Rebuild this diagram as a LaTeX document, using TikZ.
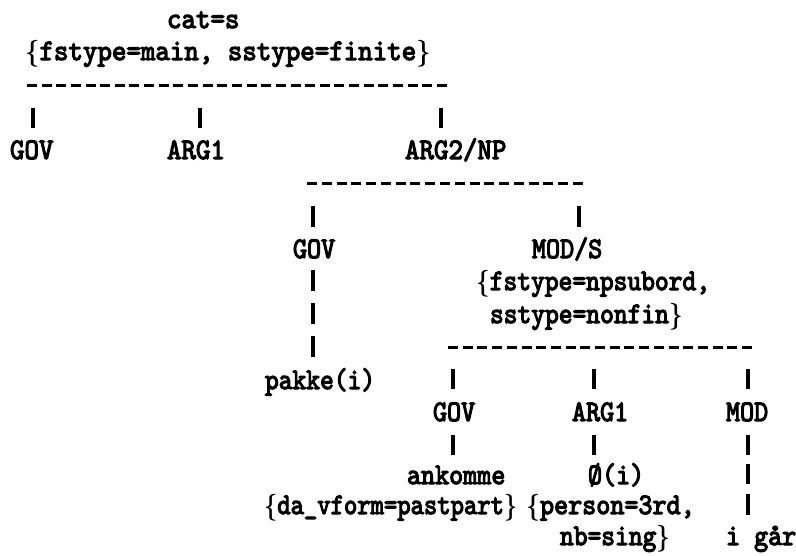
\documentclass[tikz,border=0pt]{standalone}
\usepackage{fontspec}
\usepackage{graphicx}
\newfontfamily\ttbold{lmmono10-regular.otf}[FakeBold=4]
\tikzset{
  lbl/.style={anchor=base west, inner sep=0pt, outer sep=0pt,
    font=\fontsize{27.6}{30}\selectfont\ttbold},
  vbar/.style={line width=3.2pt},
  hdash/.style={line width=3pt},
}
\newcommand{\lb}{\makebox[0.525em][c]{\smash{\boldmath$\{$}}}
\newcommand{\rb}{\makebox[0.525em][c]{\smash{\boldmath$\}$}}}
\newcommand{\TT}[2]{\scalebox{#1}[1.08]{#2}}
% vertical bar: name, x, top y, bottom y
\newcommand{\vb}[4]{%
  \coordinate (#1t) at (#2,#3);
  \coordinate (#1b) at (#2,#4);
  \draw[vbar] (#1t) -- (#1b);}
\begin{document}
\begin{tikzpicture}[x=1pt,y=-1pt]
\useasboundingbox (0,0) rectangle (796,555);
% ---- top level
\node[lbl] (cat) at (167,28) {\TT{1}{cat=s}};
\node[lbl] (feat1) at (25,60) {\TT{1}{\lb fstype=main, sstype=finite\rb}};
\coordinate (d1l) at (27,85);
\coordinate (d1r) at (447,85);
\draw[hdash, dash pattern=on 10pt off 4.64pt] (d1l) -- (d1r);
\vb{b1}{33}{108}{128}
\vb{b2}{200}{108}{128}
\vb{b3}{441}{108}{128}
\node[lbl] (gov1) at (10,159) {\TT{1}{GOV}};
\node[lbl] (arg1) at (167,159) {\TT{1}{ARG1}};
\node[lbl] (arg2) at (405,159) {\TT{1}{ARG2/NP}};
% ---- ARG2/NP
\coordinate (d2l) at (307,183);
\coordinate (d2r) at (583,183);
\draw[hdash, dash pattern=on 10pt off 4.78pt] (d2l) -- (d2r);
\vb{b4}{313}{206}{227}
\vb{b5}{579}{206}{227}
\node[lbl] (gov2) at (293,258) {\TT{0.97}{GOV}};
\node[lbl] (mods) at (532,258) {\TT{0.97}{MOD/S}};
\node[lbl] (feat2) at (476,290) {\TT{0.95}{\lb fstype=npsubord,}};
\node[lbl] (feat3) at (490,323) {\TT{0.95}{sstype=nonfin\rb}};
\vb{b6}{313}{270}{291}
\vb{b7}{313}{303}{324}
\vb{b8}{313}{336}{357}
\coordinate (d3l) at (448,347);
\coordinate (d3r) at (752,347);
\draw[hdash, dash pattern=on 10pt off 4.7pt] (d3l) -- (d3r);
% ---- MOD/S
\node[lbl] (pakke) at (265,389) {\TT{0.95}{pakke(i)}};
\vb{b9}{453}{369}{389}
\vb{b10}{594}{369}{389}
\vb{b11}{748}{369}{389}
\node[lbl] (gov3) at (433,421) {\TT{0.97}{GOV}};
\node[lbl] (arg3) at (572,421) {\TT{0.97}{ARG1}};
\node[lbl] (mod) at (726,421) {\TT{0.97}{MOD}};
\vb{b12}{453}{435}{455}
\vb{b13}{594}{435}{455}
\vb{b14}{748}{435}{455}
\node[lbl] (ank) at (407,484) {\TT{0.97}{ankomme}};
\node[lbl] (zero) at (588,484) {\TT{0.97}{Ø(i)}};
\vb{b15}{748}{464}{484}
\node[lbl] (feat4) at (264,514) {\TT{0.92}{\lb da\_vform=pastpart\rb}};
\node[lbl] (feat5) at (526,514) {\TT{0.97}{\lb person=3rd,}};
\vb{b16}{748}{494}{515}
\node[lbl] (nb) at (560,545) {\TT{0.95}{nb=sing\rb}};
\node[lbl] (igar) at (726,545) {\TT{0.97}{i går}};
\end{tikzpicture}
\end{document}
